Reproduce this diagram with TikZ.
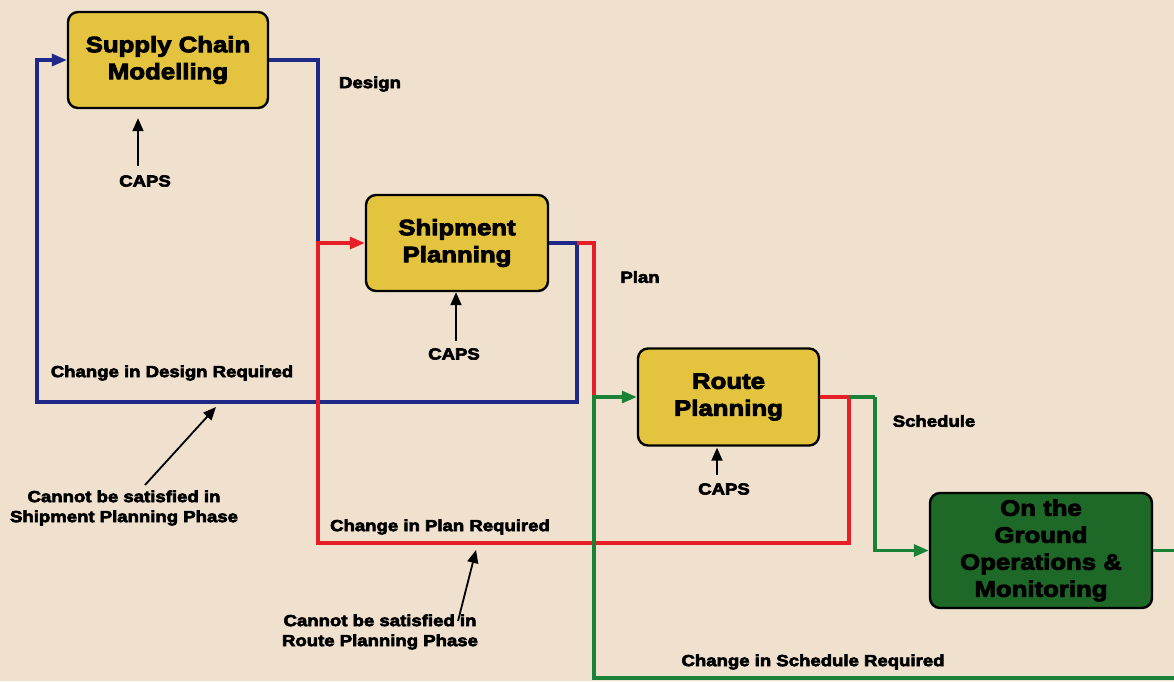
\documentclass[tikz,border=0pt]{standalone}
\usepackage{fontspec}
\setmainfont{Liberation Sans}
\newfontfamily\heavy{Liberation Sans}[FakeStretch=1.16,BoldFeatures={FakeBold=4}]
\usetikzlibrary{arrows.meta}
\definecolor{bg}{RGB}{240,225,207}
\definecolor{boxyellow}{RGB}{228,196,62}
\definecolor{boxgreen}{RGB}{30,104,40}
\definecolor{lblue}{RGB}{30,40,135}
\definecolor{lred}{RGB}{230,30,40}
\definecolor{lgreen}{RGB}{25,130,55}
\begin{document}
\begin{tikzpicture}[x=1pt,y=-1pt,
  box/.style={draw=black,line width=2.4pt,rounded corners=10pt,fill=boxyellow,align=center,inner sep=0pt,font=\heavy\bfseries\fontsize{22.2}{27}\selectfont},
  lbl/.style={font=\heavy\bfseries\fontsize{16}{20}\selectfont,align=center,inner sep=0pt},
  flow/.style={line width=3.2pt},
  tip/.style={-{Triangle[length=15pt,width=12pt]}},
  caparrow/.style={draw=black,line width=2pt,-{Triangle[length=13pt,width=11pt]}}]
\useasboundingbox (0,0) rectangle (1174,681);
\fill[bg] (0,0) rectangle (1174,681);

% boxes
\node[box,minimum width=200pt,minimum height=96pt] (scm) at (168,60) {Supply Chain\\Modelling};
\node[box,minimum width=182pt,minimum height=96pt] (sp) at (457,243) {Shipment\\Planning};
\node[box,minimum width=181pt,minimum height=97pt] (rp) at (728.5,397) {Route\\Planning};
\node[box,fill=boxgreen,minimum width=222pt,minimum height=115pt] (otg) at (1041,550.5) {On the\\Ground\\Operations \&\\Monitoring};

% labels
\node[lbl] (design) at (370,84) {Design};
\node[lbl] (plan) at (640,277) {Plan};
\node[lbl] (sched) at (934,421) {Schedule};
\node[lbl] (chd) at (172,373) {Change in Design Required};
\node[lbl] (chp) at (440,527) {Change in Plan Required};
\node[lbl] (chs) at (813,662) {Change in Schedule Required};
\node[lbl] (cn1) at (124,508) {Cannot be satisfied in\\Shipment Planning Phase};
\node[lbl] (cn2) at (380,632) {Cannot be satisfied in\\Route Planning Phase};
\node[lbl] (caps1) at (145,181) {CAPS};
\node[lbl] (caps2) at (454,354) {CAPS};
\node[lbl] (caps3) at (724,489) {CAPS};

% coordinates
\coordinate (b1) at (318,60);
\coordinate (j1) at (318,243);
\coordinate (b2) at (577,243);
\coordinate (r1) at (594,243);
\coordinate (j2) at (594,397);
\coordinate (b3) at (577,402);
\coordinate (b4) at (37,402);
\coordinate (b5) at (37,60);
\coordinate (r2) at (849,397);
\coordinate (r3) at (849,543);
\coordinate (r4) at (318,543);
\coordinate (g1) at (875,397);
\coordinate (g2) at (875,550.5);
\coordinate (g3) at (1174,550.5);
\coordinate (g4) at (1174,678);
\coordinate (g5) at (594,678);

% blue
\draw[flow,lblue] (scm.east) -- (b1) -- (j1);
\draw[flow,lblue,tip] (sp.east) -- (b2) -- (b3) -- (b4) -- (b5) -- (scm.west);
% red
\draw[flow,lred] (b2) -- (r1) -- (j2);
\draw[flow,lred,tip] (rp.east) -- (r2) -- (r3) -- (r4) -- (j1) -- (sp.west);
% green
\draw[flow,lgreen] (r2) -- (g1);
\draw[flow,lgreen,tip] (g1) -- (g2) -- (otg.west);
\draw[flow,lgreen] (otg.east) -- (g3);
\draw[flow,lgreen,tip] (g4) -- (g5) -- (j2) -- (rp.west);

% CAPS arrows
\coordinate (a1) at (138,166);
\coordinate (a2) at (456,341);
\coordinate (a3) at (717,475);
\draw[caparrow,shorten >=9pt] (a1) -- (a1 |- scm.south);
\draw[caparrow] (a2) -- (a2 |- sp.south);
\draw[caparrow,shorten >=1pt] (a3) -- (a3 |- rp.south);

% cannot arrows
\coordinate (c1) at (145,485);
\coordinate (c1t) at (216,407);
\coordinate (c2) at (458,621);
\coordinate (c2t) at (476,550);
\draw[caparrow,line width=1.8pt] (c1) -- (c1t);
\draw[caparrow,line width=1.8pt] (c2) -- (c2t);
\end{tikzpicture}
\end{document}
